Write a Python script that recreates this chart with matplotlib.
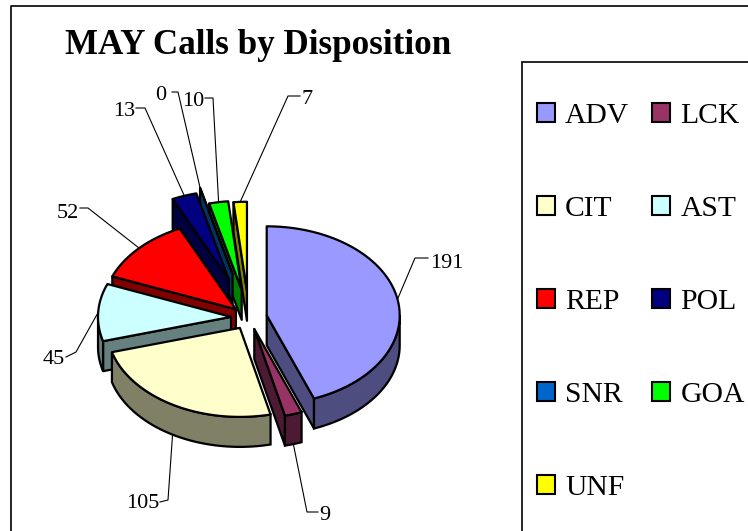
# MAY calls by disposition - exploded 3d style pie
import numpy as np
import matplotlib
matplotlib.use("Agg")
import matplotlib.pyplot as plt
from matplotlib.patches import Polygon, Rectangle
from matplotlib.colors import to_rgb

plt.rcParams['font.family'] = ['Liberation Serif', 'DejaVu Serif']

## data
names = ["ADV", "LCK", "CIT", "AST", "REP", "POL", "SNR", "GOA", "UNF"]
calls = [191, 9, 105, 45, 52, 13, 0, 10, 7]
colors = ["#9999FF", "#993366", "#FFFFCC", "#CCFFFF", "#FF0000",
          "#000080", "#0066CC", "#00FF00", "#FFFF00"]
explode = [18, 18, 18, 18, 18, 60, 67, 42, 40]

## label layout in pixels: text position and leader elbow
label_pos = [(447, 263), (325, 516), (143, 504), (54, 359), (68, 213),
             (124, 112), (161, 96), (193, 101), (307, 99)]
elbow = [[(415, 258), (428, 258)], [(307, 512), (318, 512)],
         [(168, 500), (160, 502)], [(76, 352), (66, 357)],
         [(88, 208), (80, 208)], [(145, 108), (136, 108)],
         [(178, 92), (172, 92)], [(213, 98), (205, 98)],
         [(288, 96), (300, 96)]]

cx, cy = 249, 317.5
rx, ry = 133, 89
depth = 30
kk = ry / rx

fig = plt.figure(figsize=(7.48, 5.31), dpi=100)
ax = fig.add_axes([0, 0, 1, 1])
ax.set_xlim(0, 748)
ax.set_ylim(531, 0)
ax.axis("off")

## chart border, right and bottom run off the picture
ax.plot([11, 11, 760], [540, 6, 6], color="black", lw=1.2)

ax.text(65, 46, "MAY Calls by Disposition", fontsize=25.2, fontweight="bold",
        va="center", ha="left")

ends = np.cumsum(calls) / sum(calls) * 2 * np.pi
starts = np.r_[0, ends[:-1]]
mids = (starts + ends) / 2


def pt(ox, oy, a, r=1.0):
    return ox + r * rx * np.sin(a), oy - r * ry * np.cos(a)


def side(p, q, color):
    verts = [p, q, (q[0], q[1] + depth), (p[0], p[1] + depth)]
    ax.add_patch(Polygon(verts, closed=True, fc=color, ec="black", lw=1.6, joinstyle="round"))


order = np.argsort(-np.cos(mids))
for i in order:
    a0, a1 = starts[i], ends[i]
    ox = cx + explode[i] * np.sin(mids[i])
    oy = cy - explode[i] * kk * np.cos(mids[i])
    dark = tuple(c * 0.5 for c in to_rgb(colors[i]))

    # radial side walls
    if np.sin(a0) < -1e-6:
        side((ox, oy), pt(ox, oy, a0), dark)
    if np.sin(a1) > 1e-6:
        side((ox, oy), pt(ox, oy, a1), dark)

    # outer wall, only front half shows
    lo, hi = max(a0, np.pi / 2), min(a1, 3 * np.pi / 2)
    if hi > lo:
        t = np.linspace(lo, hi, 60)
        x, y = pt(ox, oy, t)
        verts = np.r_[np.c_[x, y], np.c_[x[::-1], y[::-1] + depth]]
        ax.add_patch(Polygon(verts, closed=True, fc=dark, ec="black", lw=1.6))

    # top
    t = np.linspace(a0, a1, 80)
    x, y = pt(ox, oy, t)
    verts = np.r_[[(ox, oy)], np.c_[x, y]]
    ax.add_patch(Polygon(verts, closed=True, fc=colors[i], ec="black", lw=1.6, joinstyle="round"))

## leaders and value labels
for i in range(len(calls)):
    ox = cx + explode[i] * np.sin(mids[i])
    oy = cy - explode[i] * kk * np.cos(mids[i])
    x0, y0 = pt(ox, oy, mids[i])
    if np.cos(mids[i]) < 0:
        y0 += depth
    xs = [x0] + [p[0] for p in elbow[i]]
    ys = [y0] + [p[1] for p in elbow[i]]
    ax.plot(xs, ys, color="black", lw=0.8, zorder=1.5)
    ax.text(label_pos[i][0], label_pos[i][1], str(calls[i]), fontsize=16,
            ha="center", va="center")

## legend, filled row by row in the original so reorder for matplotlib
ax.add_patch(Rectangle((522, 62), 240, 500, fc="white", ec="black", lw=1.2))
handles = [Rectangle((0, 0), 1, 1, fc=c, ec="black", lw=1.5) for c in colors]
idx = [0, 2, 4, 6, 8, 1, 3, 5, 7]
ax.legend([handles[i] for i in idx], [names[i] for i in idx], ncol=2, frameon=False,
          fontsize=21.3, loc="upper left", bbox_to_anchor=(537 / 748, 1 - 103 / 531),
          borderpad=0, borderaxespad=0, handlelength=0.61, handleheight=0.61,
          handletextpad=0.34, columnspacing=0.78, labelspacing=2.265)

fig.savefig("out.png", dpi=100)
